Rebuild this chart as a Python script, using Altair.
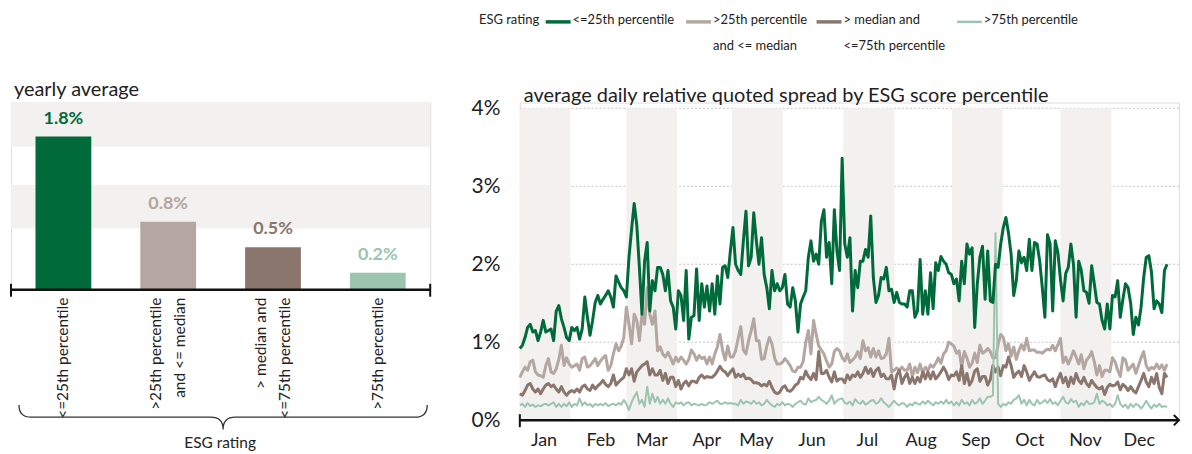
import altair as alt
import pandas as pd

# ---------------- data ----------------
SERIES = ["<=25th percentile", ">25th percentile and <= median",
          "> median and <=75th percentile", ">75th percentile"]
COLORS = ["#006a3b", "#b4a6a0", "#8b766d", "#9bc5af"]
LINE_W = [3, 3, 3, 2]
LEGEND_LINES = [["<=25th percentile"], [">25th percentile", "and <= median"],
                ["> median and", "<=75th percentile"], [">75th percentile"]]

yearly_avg = [1.8, 0.8, 0.5, 0.2]
yearly_lbl = ["1.8%", "0.8%", "0.5%", "0.2%"]
left_band_lo = [0.72, 1.68]
left_band_hi = [1.23, 2.2]

month_names = ["Jan", "Feb", "Mar", "Apr", "May", "Jun",
               "Jul", "Aug", "Sep", "Oct", "Nov", "Dec"]
month_center = [9.3, 31.2, 50.8, 71.9, 91.0, 112.4, 133.7, 154.4, 175.5, 196.2, 217.6, 238.3]
shade_start = [0.0, 41.0, 81.6, 124.5, 166.3, 208.0]
shade_end = [19.5, 60.5, 101.1, 144.1, 185.8, 227.6]
grid_values = [1, 2, 3, 4]

spread_le25 = [
    0.92, 0.96, 1.06, 1.19, 1.23, 1.13, 1.15, 1.02, 1.13, 1.28,
    1.13, 1.15, 1.17, 1.02, 1.40, 1.47, 1.30, 1.19, 1.06, 1.02,
    1.19, 1.15, 1.19, 1.04, 1.17, 1.58, 1.32, 1.09, 1.28, 1.51,
    1.60, 1.49, 1.55, 1.60, 1.66, 1.58, 1.45, 1.85, 1.77, 1.70,
    1.66, 1.58,
    2.09, 2.45, 2.78, 2.50, 1.96, 1.36, 2.04, 2.28, 1.40, 1.79,
    1.66, 1.96, 1.96, 1.87, 1.66, 1.92, 1.53, 1.45, 1.17, 1.66,
    1.60, 1.28, 1.92, 1.04, 1.32, 1.34, 1.94, 1.28, 1.75, 1.45,
    1.72, 1.40, 1.75, 1.36, 1.85, 1.49, 1.96, 1.98, 1.83, 2.17,
    2.47,
    2.00, 1.92, 1.87, 2.30, 2.68, 1.98, 2.09, 2.66, 2.30, 2.00,
    2.34, 1.87, 1.70, 1.43, 1.92, 1.66, 1.75, 1.66, 1.70, 1.87,
    1.49, 1.45, 1.70, 1.53, 1.13, 1.49, 1.58, 1.66, 2.09, 2.30,
    2.04, 2.13, 2.00, 2.55, 2.70, 2.09, 2.28, 1.75, 2.70, 2.17,
    1.92,
    3.36, 2.26, 2.09, 2.34, 1.40, 1.92, 1.70, 2.04, 2.04, 2.19,
    2.09, 2.62, 1.83, 1.51, 1.60, 1.83, 1.81, 1.96, 1.66, 1.68,
    1.51, 1.64, 1.51, 1.49, 1.49, 1.45, 1.66, 1.66, 1.32, 1.40,
    2.06, 1.36, 1.66, 1.36, 1.89, 1.43, 2.02, 1.92, 2.10, 2.04,
    2.00,
    1.89, 1.87, 1.75, 1.81, 1.53, 2.04, 1.75, 2.26, 2.13, 2.21,
    1.19, 1.75, 2.09, 2.23, 1.55, 2.17, 1.53, 1.51, 2.00, 1.96,
    2.26, 2.47, 2.60, 2.40, 2.13, 1.60, 1.79, 2.17, 2.02, 2.09,
    1.92, 2.32, 1.92, 2.28, 2.26, 2.04, 1.70, 1.32, 2.38, 2.26,
    1.40, 2.30, 2.15, 1.80, 1.53, 1.88, 1.96, 2.26, 2.00, 1.32,
    2.04, 1.92, 1.66, 1.64, 1.50, 1.98, 1.75, 1.51, 1.49, 1.28,
    1.17, 1.49, 1.17, 1.60, 1.58, 1.79, 1.32, 1.55, 1.75, 1.70,
    1.50, 1.10, 1.32, 1.22, 1.45, 1.83, 2.09, 2.11, 1.90, 1.43,
    1.53, 1.49, 1.38, 1.92, 2.00,
]

spread_25_50 = [
    0.55, 0.62, 0.68, 0.64, 0.75, 0.77, 0.62, 0.58, 0.57, 0.55,
    0.70, 0.79, 0.62, 0.60, 0.66, 0.78, 0.96, 0.70, 0.80, 0.72,
    0.68, 0.70, 0.72, 0.64, 0.79, 0.81, 0.68, 0.70, 0.74, 0.79,
    0.70, 0.76, 0.80, 0.83, 0.64, 0.70, 0.85, 0.98, 0.89, 0.95,
    1.06, 1.45,
    1.23, 0.98, 1.36, 1.28, 1.02, 1.36, 1.23, 1.70, 1.36, 1.23,
    1.40, 0.89, 0.94, 0.85, 0.81, 0.87, 0.80, 0.72, 0.81, 0.75,
    0.81, 0.77, 0.72, 0.78, 0.90, 0.85, 0.77, 0.83, 0.79, 0.81,
    0.72, 0.81, 0.72, 0.85, 0.94, 1.10, 0.90, 0.77, 0.95, 0.81,
    0.81,
    0.89, 1.05, 1.20, 0.90, 0.85, 1.02, 1.15, 1.30, 1.02, 1.02,
    0.78, 0.79, 0.95, 1.06, 0.98, 0.80, 0.72, 0.72, 0.74, 0.79,
    0.75, 0.70, 0.63, 0.62, 0.68, 0.68, 0.75, 1.00, 1.15, 0.85,
    1.28, 1.10, 0.95, 0.90, 0.85, 0.76, 0.68, 0.72, 0.88, 0.92,
    0.89,
    0.80, 0.76, 0.85, 0.74, 0.77, 0.81, 0.88, 0.79, 1.02, 0.89,
    0.93, 0.81, 0.92, 0.81, 0.89, 0.79, 0.80, 0.85, 1.05, 0.62,
    0.64, 0.67, 0.64, 0.68, 0.64, 0.64, 0.72, 0.56, 0.68, 0.61,
    0.72, 0.60, 0.68, 0.64, 0.71, 0.68, 0.73, 0.80, 0.73, 0.85,
    0.89,
    1.00, 0.98, 0.95, 0.86, 0.89, 0.68, 0.88, 0.80, 0.68, 0.73,
    0.86, 0.74, 0.96, 0.86, 0.88, 0.92, 0.88, 0.80, 0.80, 0.97,
    1.10, 1.06, 0.89, 0.98, 0.82, 0.94, 0.78, 0.89, 0.97, 0.90,
    1.05, 0.89, 0.90, 0.90, 0.87, 0.87, 0.86, 0.89, 0.91, 0.90,
    0.96, 0.89, 0.97, 1.05, 0.74, 0.81, 0.72, 0.80, 0.89, 0.81,
    0.72, 0.84, 0.66, 0.77, 0.81, 0.88, 0.75, 0.58, 0.70, 0.56,
    0.64, 0.64, 0.62, 0.80, 0.75, 0.64, 0.56, 0.80, 0.77, 0.64,
    0.68, 0.72, 0.60, 0.70, 0.80, 0.88, 0.70, 0.64, 0.68, 0.66,
    0.72, 0.66, 0.71, 0.64, 0.72,
]

spread_50_75 = [
    0.34, 0.32, 0.38, 0.45, 0.47, 0.40, 0.36, 0.40, 0.34, 0.40,
    0.45, 0.47, 0.43, 0.45, 0.40, 0.36, 0.43, 0.36, 0.32, 0.36,
    0.38, 0.36, 0.40, 0.36, 0.43, 0.45, 0.40, 0.38, 0.45, 0.40,
    0.44, 0.47, 0.51, 0.46, 0.43, 0.47, 0.58, 0.45, 0.49, 0.52,
    0.55, 0.66,
    0.58, 0.66, 0.50, 0.62, 0.66, 0.70, 0.72, 0.75, 0.58, 0.66,
    0.58, 0.58, 0.64, 0.51, 0.60, 0.47, 0.55, 0.55, 0.43, 0.51,
    0.40, 0.47, 0.50, 0.44, 0.50, 0.50, 0.48, 0.55, 0.58, 0.54,
    0.56, 0.55, 0.55, 0.58, 0.63, 0.69, 0.64, 0.62, 0.57, 0.62,
    0.66,
    0.55, 0.59, 0.56, 0.59, 0.53, 0.54, 0.52, 0.48, 0.48, 0.47,
    0.44, 0.46, 0.44, 0.50, 0.42, 0.36, 0.34, 0.36, 0.42, 0.44,
    0.38, 0.37, 0.40, 0.45, 0.47, 0.55, 0.53, 0.63, 0.56, 0.52,
    0.60, 0.52, 0.88, 0.60, 0.60, 0.64, 0.55, 0.49, 0.62, 0.50,
    0.53,
    0.53, 0.48, 0.58, 0.52, 0.58, 0.56, 0.62, 0.55, 0.60, 0.68,
    0.60, 0.66, 0.56, 0.64, 0.67, 0.56, 0.59, 0.53, 0.53, 0.58,
    0.40, 0.58, 0.64, 0.47, 0.55, 0.60, 0.47, 0.55, 0.47, 0.55,
    0.49, 0.62, 0.53, 0.62, 0.53, 0.62, 0.53, 0.57, 0.62, 0.68,
    0.62,
    0.52, 0.58, 0.57, 0.62, 0.51, 0.70, 0.47, 0.60, 0.45, 0.51,
    0.63, 0.66, 0.50, 0.56, 0.56, 0.45, 0.52, 0.70, 0.62, 0.68,
    0.57, 0.70, 0.68, 0.81, 0.70, 0.55, 0.60, 0.63, 0.56, 0.70,
    0.62, 0.51, 0.57, 0.62, 0.56, 0.55, 0.57, 0.58, 0.52, 0.50,
    0.53, 0.43, 0.53, 0.60, 0.48, 0.55, 0.43, 0.55, 0.47, 0.60,
    0.51, 0.47, 0.55, 0.47, 0.43, 0.51, 0.46, 0.42, 0.40, 0.43,
    0.33, 0.42, 0.46, 0.44, 0.45, 0.49, 0.39, 0.46, 0.43, 0.38,
    0.43, 0.38, 0.35, 0.43, 0.51, 0.60, 0.49, 0.43, 0.55, 0.47,
    0.60, 0.42, 0.34, 0.60, 0.55,
]

spread_gt75 = [
    0.19, 0.21, 0.17, 0.22, 0.18, 0.20, 0.17, 0.19, 0.18, 0.20,
    0.21, 0.19, 0.21, 0.23, 0.17, 0.21, 0.17, 0.21, 0.18, 0.23,
    0.17, 0.21, 0.19, 0.28, 0.19, 0.23, 0.19, 0.21, 0.17, 0.21,
    0.19, 0.21, 0.19, 0.22, 0.18, 0.20, 0.21, 0.19, 0.22, 0.20,
    0.26, 0.21,
    0.13, 0.23, 0.30, 0.36, 0.21, 0.26, 0.17, 0.43, 0.21, 0.34,
    0.23, 0.30, 0.21, 0.26, 0.21, 0.28, 0.21, 0.17, 0.23, 0.21,
    0.23, 0.19, 0.22, 0.23, 0.19, 0.21, 0.20, 0.19, 0.21, 0.19,
    0.20, 0.23, 0.21, 0.23, 0.25, 0.21, 0.21, 0.23, 0.21, 0.22,
    0.21,
    0.21, 0.19, 0.26, 0.21, 0.24, 0.23, 0.21, 0.25, 0.21, 0.23,
    0.19, 0.21, 0.26, 0.22, 0.19, 0.17, 0.21, 0.19, 0.23, 0.19,
    0.21, 0.20, 0.17, 0.21, 0.23, 0.25, 0.21, 0.20, 0.28, 0.23,
    0.25, 0.26, 0.30, 0.26, 0.24, 0.21, 0.25, 0.32, 0.21, 0.25,
    0.27,
    0.28, 0.22, 0.21, 0.24, 0.19, 0.27, 0.23, 0.21, 0.25, 0.20,
    0.22, 0.25, 0.26, 0.21, 0.23, 0.28, 0.23, 0.20, 0.17, 0.21,
    0.25, 0.21, 0.19, 0.22, 0.21, 0.17, 0.21, 0.19, 0.23, 0.21,
    0.20, 0.24, 0.21, 0.25, 0.22, 0.19, 0.23, 0.21, 0.24, 0.21,
    0.26,
    0.21, 0.24, 0.19, 0.23, 0.19, 0.26, 0.21, 0.23, 0.19, 0.26,
    0.21, 0.23, 0.28, 0.21, 0.25, 0.30, 0.30, 0.32, 2.40, 0.21,
    0.17, 0.21, 0.19, 0.23, 0.21, 0.26, 0.28, 0.32, 0.21, 0.26,
    0.19, 0.26, 0.21, 0.19, 0.26, 0.21, 0.23, 0.26, 0.22, 0.27,
    0.21, 0.23, 0.19, 0.25, 0.30, 0.23, 0.21, 0.27, 0.23, 0.25,
    0.17, 0.22, 0.19, 0.25, 0.21, 0.21, 0.23, 0.34, 0.21, 0.25,
    0.23, 0.19, 0.21, 0.17, 0.21, 0.32, 0.21, 0.17, 0.20, 0.15,
    0.21, 0.17, 0.21, 0.19, 0.15, 0.19, 0.25, 0.19, 0.15, 0.20,
    0.17, 0.21, 0.17, 0.18, 0.17,
]

# ---------------- style ----------------
FONT = "Lato"
TXT = "#222222"
BAND = "#f2f1ef"
TOP = -89          # top of legend text, relative to the plot tops
CAT_LH = 24        # line height of the rotated category labels

one = pd.DataFrame({"k": [0]})

# ---------------- left panel: yearly average ----------------
WL, HL = 421, 188
bar_records = [{"cat": s, "avg": v, "label": l, "lines": ln, "n": len(ln)}
               for s, v, l, ln in zip(SERIES, yearly_avg, yearly_lbl, LEGEND_LINES)]
bar_data = alt.Data(values=bar_records)
xl = alt.X("cat:N", sort=SERIES, axis=None,
           scale=alt.Scale(paddingInner=0.468, paddingOuter=0.234))
yl_scale = alt.Scale(domain=[0, 2.2], nice=False, zero=True)
col = alt.Color("cat:N", scale=alt.Scale(domain=SERIES, range=COLORS), legend=None)

l_bands = alt.Chart(pd.DataFrame({"lo": left_band_lo, "hi": left_band_hi})).mark_rect(
    color=BAND).encode(x=alt.value(0), x2=alt.value(WL),
                       y=alt.Y("lo:Q", scale=yl_scale, axis=None), y2="hi:Q")
bars = alt.Chart(bar_data).mark_bar().encode(
    x=xl, y=alt.Y("avg:Q", scale=yl_scale, axis=None), color=col)
bar_text = alt.Chart(bar_data).mark_text(
    baseline="bottom", dy=-9, font=FONT, fontSize=18, fontWeight="bold").encode(
    x=xl, y=alt.Y("avg:Q", scale=yl_scale, axis=None), text="label:N", color=col)
# rotated category labels; dy works in the rotated frame (negative = to the left)
cat_text_1 = alt.Chart(bar_data).transform_filter(alt.datum.n == 1).mark_text(
    angle=270, align="right", baseline="middle", font=FONT, fontSize=15.5,
    lineHeight=CAT_LH, color=TXT).encode(x=xl, y=alt.value(HL + 8), text="lines:N")
cat_text_2 = alt.Chart(bar_data).transform_filter(alt.datum.n == 2).mark_text(
    angle=270, align="right", baseline="middle", font=FONT, fontSize=15.5,
    lineHeight=CAT_LH, dy=-CAT_LH / 2, color=TXT).encode(
    x=xl, y=alt.value(HL + 8), text="lines:N")
l_axis = alt.Chart(one).mark_rule(color="#111", strokeWidth=2.5).encode(
    x=alt.value(0), x2=alt.value(WL), y=alt.value(HL))
l_tick0 = alt.Chart(one).mark_rule(color="#111", strokeWidth=2).encode(
    x=alt.value(0), y=alt.value(HL - 6), y2=alt.value(HL + 7))
l_tick1 = alt.Chart(one).mark_rule(color="#111", strokeWidth=2).encode(
    x=alt.value(WL), y=alt.value(HL - 6), y2=alt.value(HL + 7))
BRACE = "M -1 -0.06 Q -1 0 -0.94 0 L -0.06 0 Q 0 0 0 0.06 Q 0 0 0.06 0 L 0.94 0 Q 1 0 1 -0.06"
brace = alt.Chart(one).mark_point(
    shape=BRACE, size=410 * 410, filled=False, color="#333", strokeWidth=1.3,
    opacity=1).encode(x=alt.value(213), y=alt.value(HL + 128))
esg_title = alt.Chart(one).mark_text(
    font=FONT, fontSize=15.5, color=TXT, baseline="middle").encode(
    x=alt.value(210), y=alt.value(HL + 154), text=alt.value("ESG rating"))
l_title = alt.Chart(one).mark_text(
    font=FONT, fontSize=20, color=TXT, align="left", baseline="middle").encode(
    x=alt.value(3), y=alt.value(-13), text=alt.value("yearly average"))
l_spacer = alt.Chart(one).mark_rule(color="white", strokeWidth=0.5).encode(
    x=alt.value(WL - 5), y=alt.value(TOP), y2=alt.value(TOP + 2))

left = alt.layer(l_bands, bars, bar_text, cat_text_1, cat_text_2, l_axis, l_tick0,
                 l_tick1, brace, esg_title, l_title, l_spacer).properties(width=WL, height=HL)

# ---------------- right panel: daily spreads ----------------
WR, HR = 662, 319
x_scale = alt.Scale(domain=[0, 253.6], nice=False, zero=False)
y_scale = alt.Scale(domain=[0, 4.074], nice=False)
y_axis = alt.Axis(values=[0, 1, 2, 3, 4], labelExpr="datum.value + '%'", grid=False,
                  domain=False, ticks=False, labelPadding=20, labelFont=FONT,
                  labelFontSize=21, labelColor=TXT, title=None)

rows = []
for name, vals in zip(SERIES, [spread_le25, spread_25_50, spread_50_75, spread_gt75]):
    for d, v in enumerate(vals):
        rows.append({"day": d, "value": v, "series": name})
long_df = pd.DataFrame(rows)

grid = alt.Chart(pd.DataFrame({"g": grid_values})).mark_rule(
    color="#c4c4c4", strokeWidth=1, strokeDash=[2, 2]).encode(
    y=alt.Y("g:Q", scale=y_scale, axis=y_axis), x=alt.value(0), x2=alt.value(WR))
shades = alt.Chart(pd.DataFrame({"s": shade_start, "e": shade_end})).mark_rect(
    color=BAND).encode(x=alt.X("s:Q", scale=x_scale, axis=None), x2="e:Q",
                       y=alt.datum(4, scale=y_scale), y2=alt.datum(0))

line_layers = []
for idx in [1, 2, 3, 0]:
    name = SERIES[idx]
    line_layers.append(
        alt.Chart(long_df).transform_filter(alt.datum.series == name).mark_line(
            color=COLORS[idx], strokeWidth=LINE_W[idx], strokeJoin="round").encode(
            x=alt.X("day:Q", scale=x_scale, axis=None),
            y=alt.Y("value:Q", scale=y_scale, axis=y_axis)))

months = alt.Chart(pd.DataFrame({"m": month_names, "c": month_center})).mark_text(
    font=FONT, fontSize=18, color=TXT, baseline="middle").encode(
    x=alt.X("c:Q", scale=x_scale, axis=None), y=alt.value(HR + 21), text="m:N")
r_axis = alt.Chart(one).mark_rule(color="#111", strokeWidth=2.5).encode(
    x=alt.value(0), x2=alt.value(WR - 1), y=alt.value(HR))
r_tick0 = alt.Chart(one).mark_rule(color="#111", strokeWidth=2).encode(
    x=alt.value(0), y=alt.value(HR - 6), y2=alt.value(HR + 7))
arrow = alt.Chart(one).mark_point(
    shape="M -1 -1 L 0 0 L -1 1", size=110, filled=False, color="#111",
    strokeWidth=2, opacity=1).encode(x=alt.value(WR), y=alt.value(HR))
r_title = alt.Chart(one).mark_text(
    font=FONT, fontSize=20, color=TXT, align="left", baseline="middle").encode(
    x=alt.value(4), y=alt.value(-7),
    text=alt.value("average daily relative quoted spread by ESG score percentile"))

# manual legend (top)
LEG_FS = 13
LEG_TITLE_X = -41
LEG_SYM_X = [26, 167, 298, 439]
LEG_LAB_X = [53, 194, 325, 466]
legend_layers = [alt.Chart(one).mark_text(
    font=FONT, fontSize=LEG_FS, color=TXT, align="left", baseline="top").encode(
    x=alt.value(LEG_TITLE_X), y=alt.value(TOP), text=alt.value("ESG rating"))]
for i in range(4):
    legend_layers.append(alt.Chart(one).mark_rule(
        color=COLORS[i], strokeWidth=LINE_W[i] + 0.5).encode(
        x=alt.value(LEG_SYM_X[i]), x2=alt.value(LEG_SYM_X[i] + 25),
        y=alt.value(TOP + 8)))
    legend_layers.append(alt.Chart(one).mark_text(
        font=FONT, fontSize=LEG_FS, color=TXT, align="left", baseline="top",
        lineHeight=26).encode(
        x=alt.value(LEG_LAB_X[i]), y=alt.value(TOP), text=alt.value(LEGEND_LINES[i])))

right = alt.layer(grid, shades, *line_layers, months, r_axis, r_tick0, arrow,
                  r_title, *legend_layers).properties(width=WR, height=HR)

chart = alt.hconcat(left, right, spacing=38).properties(
    padding={"left": 1, "top": 4, "right": 0, "bottom": 0}
).configure_view(strokeWidth=0).configure(background="white")

chart.save("out.html", embed_options={"renderer": "svg", "actions": False})
